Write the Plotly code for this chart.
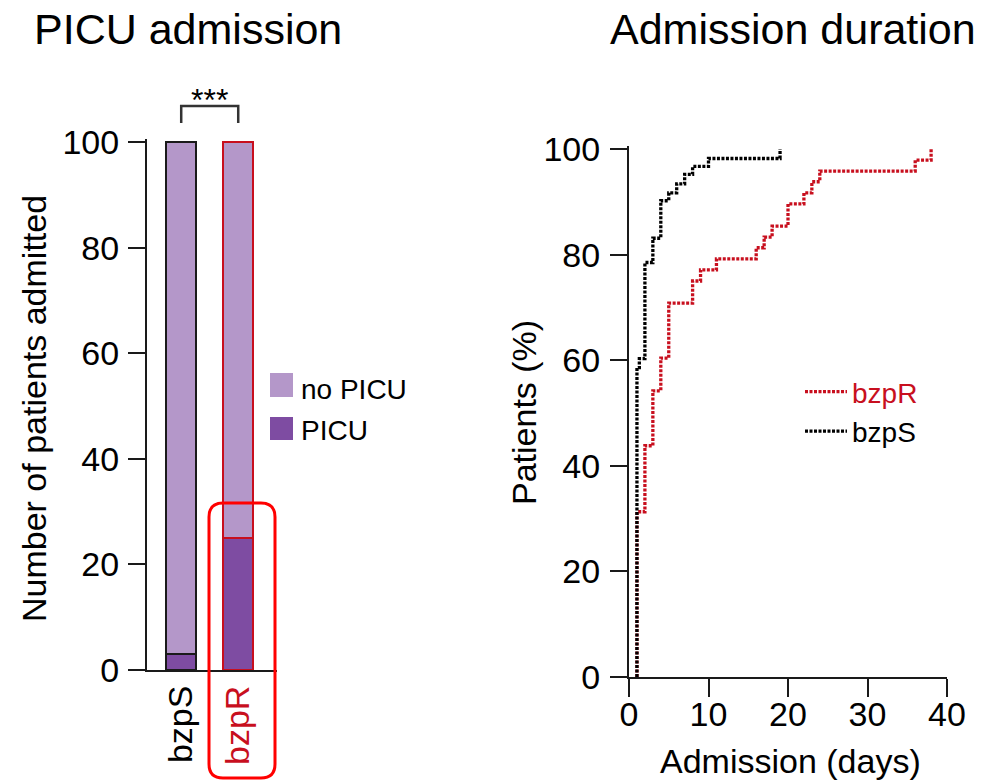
import plotly.graph_objects as go

# ---------------- data ----------------
groups = ["bzpS", "bzpR"]
picu_pct = [3, 25]
no_picu_pct = [97, 75]

bzpR_days = [1, 1, 2, 3, 4, 5, 8, 9, 11, 16, 17, 18, 20, 22, 23, 24, 36, 38]
bzpR_pct = [0, 31.3, 43.8, 54.2, 60.4, 70.8, 75.0, 77.1, 79.2, 81.3, 83.3, 85.4, 89.6, 91.7, 93.8, 95.8, 97.9, 100]

bzpS_days = [1, 1, 1.3, 2, 3, 4, 5, 6, 7, 8, 10, 19]
bzpS_pct = [0, 58.6, 60.3, 78.5, 83.1, 90.2, 91.7, 93.4, 95.2, 96.7, 98.2, 100]

y_ticks = [0, 20, 40, 60, 80, 100]
x_ticks_days = [0, 10, 20, 30, 40]

# ---------------- style ----------------
W, H = 986, 782
FONT = "Arial, Liberation Sans, sans-serif"
RED = "#C80F1E"
BRIGHT_RED = "#FF0000"
AX = "#1a1a1a"
LIGHT_PURPLE = "#B497C9"
DARK_PURPLE = "#7E4CA2"


def px(x):
    return x / W


def py(y):
    return 1 - y / H


fig = go.Figure()

bar_pos = [0, 1]
outline = [AX, RED]
fig.add_trace(go.Bar(x=bar_pos, y=picu_pct, name="PICU", width=0.53,
                     marker=dict(color=DARK_PURPLE, line=dict(color=outline, width=2)),
                     xaxis="x", yaxis="y", showlegend=False))
fig.add_trace(go.Bar(x=bar_pos, y=no_picu_pct, name="no PICU", width=0.53,
                     marker=dict(color=LIGHT_PURPLE, line=dict(color=outline, width=2)),
                     xaxis="x", yaxis="y", showlegend=False))

fig.add_trace(go.Scatter(x=bzpR_days, y=bzpR_pct, mode="lines",
                         name="<span style='color:%s'>bzpR</span>" % RED,
                         line=dict(color=RED, width=3.3, shape="hv", dash="3px,1.5px"),
                         xaxis="x2", yaxis="y2", legend="legend"))
fig.add_trace(go.Scatter(x=bzpS_days, y=bzpS_pct, mode="lines", name="bzpS",
                         line=dict(color="black", width=3.3, shape="hv", dash="3px,1.5px"),
                         xaxis="x2", yaxis="y2", legend="legend"))

k = (670 - 142) / 100.0
axis_common = dict(showline=True, linewidth=2, linecolor=AX, showgrid=False, zeroline=False,
                   automargin=False,
                   tickfont=dict(size=34, color="black", family=FONT))

fig.update_layout(
    width=W, height=H,
    margin=dict(l=0, r=0, t=0, b=0, autoexpand=False),
    paper_bgcolor="white", plot_bgcolor="white",
    font=dict(family=FONT, color="black"),
    barmode="stack",
    xaxis=dict(domain=[px(147), px(277)], range=[-0.6, 1.68], tickvals=bar_pos,
               ticktext=["bzpS", "<span style='color:%s'>bzpR</span>" % RED],
               tickangle=-90, ticks="", ticklabelstandoff=0, **axis_common),
    yaxis=dict(domain=[py(670), py(670 - 100.5 * k)], range=[0, 100.5], tickvals=y_ticks,
               ticks="outside", ticklen=17, tickwidth=2, tickcolor=AX, ticklabelstandoff=2,
               **axis_common),
    xaxis2=dict(domain=[px(629), px(947)], range=[0, 40], tickvals=x_ticks_days,
                ticks="outside", ticklen=18, tickwidth=2, tickcolor=AX, ticklabelstandoff=-12,
                anchor="y2", **axis_common),
    yaxis2=dict(domain=[py(677), py(677 - 100.5 * k)], range=[0, 100.5], tickvals=y_ticks,
                ticks="outside", ticklen=17, tickwidth=2, tickcolor=AX, ticklabelstandoff=3,
                anchor="x2", **axis_common),
    legend=dict(x=px(800), y=py(367), xanchor="left", yanchor="top", traceorder="normal",
                font=dict(size=28, family=FONT, color="black"), bgcolor="rgba(0,0,0,0)",
                itemwidth=42, tracegroupgap=0),
)

annotations = [
    dict(text="PICU admission", x=px(188), y=py(29), xref="paper", yref="paper",
         showarrow=False, font=dict(size=43), xanchor="center", yanchor="middle"),
    dict(text="Admission duration", x=px(793), y=py(29), xref="paper", yref="paper",
         showarrow=False, font=dict(size=43), xanchor="center", yanchor="middle"),
    dict(text="Number of patients admitted", x=px(34), y=py(409), xref="paper", yref="paper",
         showarrow=False, font=dict(size=34), textangle=-90, xanchor="center", yanchor="middle"),
    dict(text="Patients (%)", x=px(524), y=py(413), xref="paper", yref="paper",
         showarrow=False, font=dict(size=34), textangle=-90, xanchor="center", yanchor="middle"),
    dict(text="Admission (days)", x=px(790), y=py(761), xref="paper", yref="paper",
         showarrow=False, font=dict(size=34), xanchor="center", yanchor="middle"),
    dict(text="***", x=0.5, y=py(100), xref="x", yref="paper",
         showarrow=False, font=dict(size=32), xanchor="center", yanchor="middle"),
    dict(text="no PICU", x=px(299), y=py(389), xref="paper", yref="paper",
         showarrow=False, font=dict(size=28), xanchor="left", yanchor="middle"),
    dict(text="PICU", x=px(299), y=py(430), xref="paper", yref="paper",
         showarrow=False, font=dict(size=28), xanchor="left", yanchor="middle"),
]
fig.update_layout(annotations=annotations)


def rounded_rect(x0, y0, x1, y1, r):
    pts = [
        "M %f,%f" % (px(x0 + r), py(y0)),
        "L %f,%f" % (px(x1 - r), py(y0)),
        "Q %f,%f %f,%f" % (px(x1), py(y0), px(x1), py(y0 + r)),
        "L %f,%f" % (px(x1), py(y1 - r)),
        "Q %f,%f %f,%f" % (px(x1), py(y1), px(x1 - r), py(y1)),
        "L %f,%f" % (px(x0 + r), py(y1)),
        "Q %f,%f %f,%f" % (px(x0), py(y1), px(x0), py(y1 - r)),
        "L %f,%f" % (px(x0), py(y0 + r)),
        "Q %f,%f %f,%f" % (px(x0), py(y0), px(x0 + r), py(y0)),
        "Z",
    ]
    return " ".join(pts)


shapes = [
    # significance bracket
    dict(type="path", xref="x", yref="paper",
         path="M 0,%f L 0,%f L 1,%f L 1,%f" % (py(123), py(106), py(106), py(123)),
         line=dict(color="#333333", width=2.5)),
    # left legend swatches
    dict(type="rect", xref="paper", yref="paper", x0=px(270), x1=px(293), y0=py(397), y1=py(373),
         fillcolor=LIGHT_PURPLE, line=dict(width=0)),
    dict(type="rect", xref="paper", yref="paper", x0=px(270), x1=px(293), y0=py(440), y1=py(417),
         fillcolor=DARK_PURPLE, line=dict(width=0)),
    # highlight box
    dict(type="path", xref="paper", yref="paper", path=rounded_rect(209, 503, 275, 778, 14),
         line=dict(color=BRIGHT_RED, width=3)),
]
fig.update_layout(shapes=shapes)

fig.write_html("out.html",
               config={"displayModeBar": False},
               post_script="document.body.style.margin='0';document.body.style.overflow='hidden';")
